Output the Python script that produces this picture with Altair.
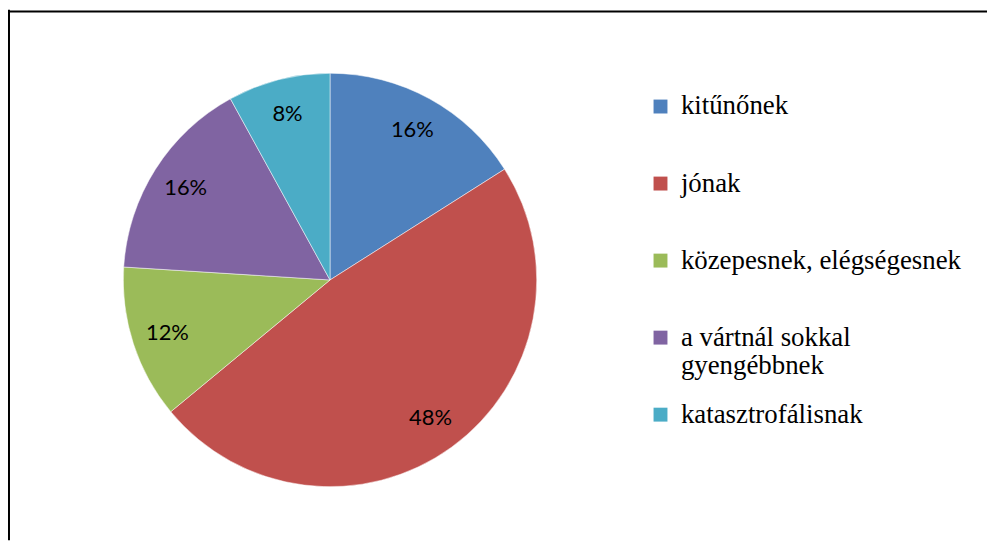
import altair as alt
import pandas as pd

# ---- data ----
categories = [
    "kitűnőnek",
    "jónak",
    "közepesnek, elégségesnek",
    "a vártnál sokkal gyengébbnek",
    "katasztrofálisnak",
]
values = [16, 48, 12, 16, 8]
labels = ["16%", "48%", "12%", "16%", "8%"]
colors = ["#4F81BD", "#C0504D", "#9BBB59", "#8064A2", "#4BACC6"]

df = pd.DataFrame({
    "cat": categories,
    "value": values,
    "label": labels,
    "order": list(range(len(categories))),
})

W, H = 985, 534
CX, CY, R = 324, 272, 208
SERIF = "Liberation Serif, Times New Roman, serif"

base = alt.Chart(df).encode(
    theta=alt.Theta("value:Q", stack=True),
    order=alt.Order("order:Q"),
)

pie = base.mark_arc(radius=R, stroke="white", strokeWidth=0.5).encode(
    x=alt.value(CX),
    y=alt.value(CY),
    color=alt.Color(
        "cat:N",
        sort=categories,
        scale=alt.Scale(domain=categories, range=colors),
        legend=alt.Legend(
            title=None, orient="none", legendX=643, legendY=84, padding=0,
            symbolType="square", symbolSize=196, symbolStrokeWidth=0, symbolOpacity=1,
            labelFont=SERIF, labelFontSize=27, labelColor="black",
            labelLimit=600, labelOffset=7, rowPadding=20.5,
            labelExpr="datum.label == 'a vártnál sokkal gyengébbnek' ? ['a vártnál sokkal', 'gyengébbnek'] : [datum.label, '']",
        ),
    ),
)

text = base.mark_text(radius=172, font="Lato", fontSize=22, color="black", baseline="middle").encode(
    x=alt.value(CX), y=alt.value(CY), text="label:N",
)

frame_df = pd.DataFrame({"k": [0]})
top_rule = alt.Chart(frame_df).mark_rule(color="black", strokeWidth=2).encode(
    x=alt.value(0), x2=alt.value(W), y=alt.value(2)
)
left_rule = alt.Chart(frame_df).mark_rule(color="black", strokeWidth=2).encode(
    x=alt.value(1), y=alt.value(0), y2=alt.value(H)
)

chart = alt.layer(pie, text, top_rule, left_rule).properties(
    width=W, height=H,
    padding={"left": 0, "top": 0, "right": 0, "bottom": 0},
    autosize=alt.AutoSizeParams(type="none"),
).configure(view=alt.ViewConfig(stroke=None))

chart.save("out.html", embed_options={"renderer": "svg", "actions": False})
